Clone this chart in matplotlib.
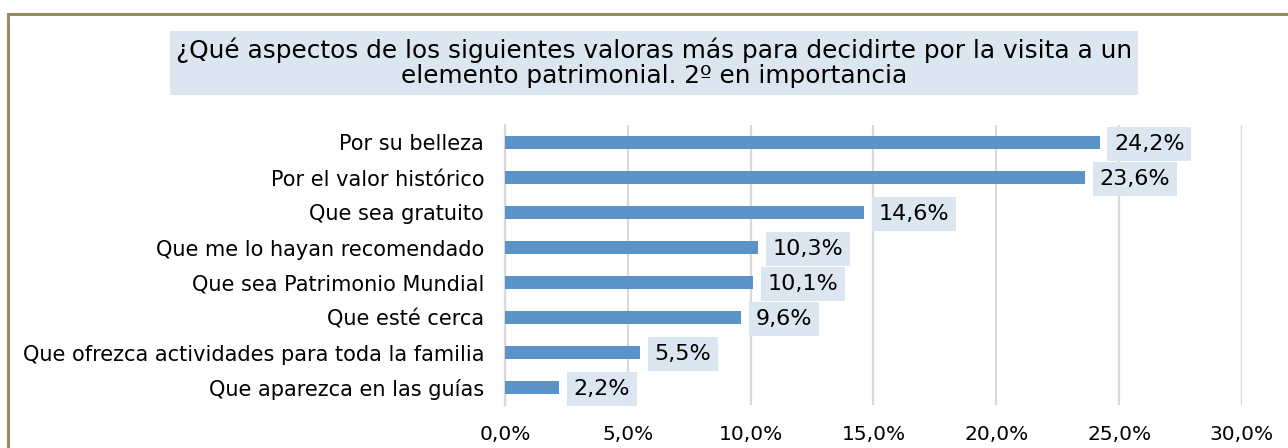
import matplotlib.pyplot as plt
import matplotlib.patches as patches
from matplotlib.ticker import FuncFormatter

categories = [
    "Por su belleza",
    "Por el valor histórico",
    "Que sea gratuito",
    "Que me lo hayan recomendado",
    "Que sea Patrimonio Mundial",
    "Que esté cerca",
    "Que ofrezca actividades para toda la familia",
    "Que aparezca en las guías",
]
values = [24.2, 23.6, 14.6, 10.3, 10.1, 9.6, 5.5, 2.2]
x_ticks = [0, 5, 10, 15, 20, 25, 30]

bar_color = "#5B93C8"
box_color = "#DCE6F0"
grid_color = "#D9D9D9"

fig = plt.figure(figsize=(12.88, 4.48), dpi=100)
plt.rcParams['font.family'] = 'DejaVu Sans'

# outer frame (only top and left visible in the original crop)
frame = patches.Rectangle((8 / 1288, -0.1), 1.2, (448 - 14) / 448 + 0.1,
                          transform=fig.transFigure, fill=False,
                          edgecolor="#948D62", linewidth=2.2)
fig.patches.append(frame)

ax = fig.add_axes([505 / 1288, 43 / 448, 737 / 1288, 280 / 448])
y = list(range(len(categories)))
ax.barh(y, values, height=0.35, color=bar_color, zorder=3)
ax.set_ylim(len(categories) - 0.5, -0.5)
ax.set_xlim(0, 30)
ax.set_xticks(x_ticks)
ax.xaxis.set_major_formatter(FuncFormatter(lambda v, p: f"{v:.1f}%".replace(".", ",")))
ax.set_yticks(y)
ax.set_yticklabels(categories, fontsize=15)
ax.tick_params(axis='x', labelsize=14.5, length=0, pad=14.5)
ax.tick_params(axis='y', length=0, pad=15)
ax.grid(axis='x', color=grid_color, linewidth=1.6, zorder=0)
for s in ["top", "right", "bottom"]:
    ax.spines[s].set_visible(False)
ax.spines["left"].set_color(grid_color)
ax.spines["left"].set_linewidth(1.6)

for yi, v in zip(y, values):
    ax.annotate(f"{v:.1f}%".replace(".", ","), xy=(v, yi), xytext=(10.5, -1),
                textcoords="offset points", va="center", ha="left", fontsize=16,
                bbox=dict(boxstyle="square,pad=0.3", facecolor=box_color, edgecolor="none"),
                zorder=4)

fig.text(654 / 1288, (448 - 63) / 448,
         "¿Qué aspectos de los siguientes valoras más para decidirte por la visita a un\n"
         "elemento patrimonial. 2º en importancia",
         ha="center", va="center", fontsize=17.8, linespacing=1.05,
         bbox=dict(boxstyle="square,pad=0.26", facecolor=box_color, edgecolor="none"))

fig.savefig("out.png", dpi=100)
